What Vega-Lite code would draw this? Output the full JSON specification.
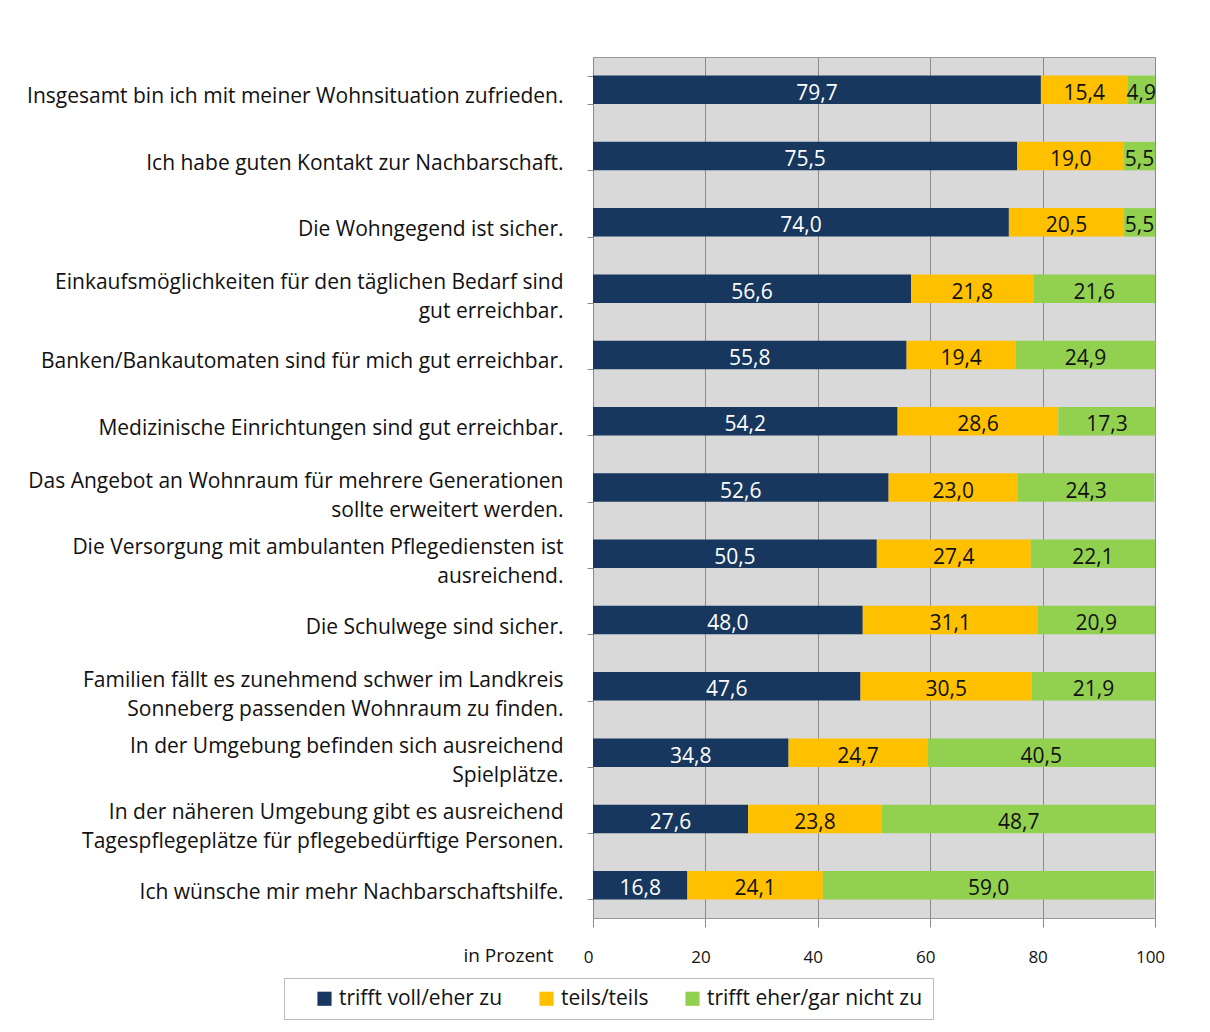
{
  "$schema": "https://vega.github.io/schema/vega-lite/v6.json",
  "autosize": "none",
  "width": 562,
  "height": 861,
  "padding": {"left": 593, "top": 57, "right": 55, "bottom": 114},
  "background": "white",
  "config": {
    "font": "Open Sans",
    "view": {"fill": "#D9D9D9", "stroke": "#9A9A9A"},
    "locale": {"number": {"decimal": ",", "thousands": ".", "grouping": [3], "currency": ["", " €"]}}
  },
  "data": {"values": [
    {"q": "Insgesamt bin ich mit meiner Wohnsituation zufrieden.", "cat": "trifft voll/eher zu", "o": 1, "v": 79.7},
    {"q": "Insgesamt bin ich mit meiner Wohnsituation zufrieden.", "cat": "teils/teils", "o": 2, "v": 15.4},
    {"q": "Insgesamt bin ich mit meiner Wohnsituation zufrieden.", "cat": "trifft eher/gar nicht zu", "o": 3, "v": 4.9},
    {"q": "Ich habe guten Kontakt zur Nachbarschaft.", "cat": "trifft voll/eher zu", "o": 1, "v": 75.5},
    {"q": "Ich habe guten Kontakt zur Nachbarschaft.", "cat": "teils/teils", "o": 2, "v": 19.0},
    {"q": "Ich habe guten Kontakt zur Nachbarschaft.", "cat": "trifft eher/gar nicht zu", "o": 3, "v": 5.5},
    {"q": "Die Wohngegend ist sicher.", "cat": "trifft voll/eher zu", "o": 1, "v": 74.0},
    {"q": "Die Wohngegend ist sicher.", "cat": "teils/teils", "o": 2, "v": 20.5},
    {"q": "Die Wohngegend ist sicher.", "cat": "trifft eher/gar nicht zu", "o": 3, "v": 5.5},
    {"q": "Einkaufsmöglichkeiten für den täglichen Bedarf sind|gut erreichbar.", "cat": "trifft voll/eher zu", "o": 1, "v": 56.6},
    {"q": "Einkaufsmöglichkeiten für den täglichen Bedarf sind|gut erreichbar.", "cat": "teils/teils", "o": 2, "v": 21.8},
    {"q": "Einkaufsmöglichkeiten für den täglichen Bedarf sind|gut erreichbar.", "cat": "trifft eher/gar nicht zu", "o": 3, "v": 21.6},
    {"q": "Banken/Bankautomaten sind für mich gut erreichbar.", "cat": "trifft voll/eher zu", "o": 1, "v": 55.8},
    {"q": "Banken/Bankautomaten sind für mich gut erreichbar.", "cat": "teils/teils", "o": 2, "v": 19.4},
    {"q": "Banken/Bankautomaten sind für mich gut erreichbar.", "cat": "trifft eher/gar nicht zu", "o": 3, "v": 24.9},
    {"q": "Medizinische Einrichtungen sind gut erreichbar.", "cat": "trifft voll/eher zu", "o": 1, "v": 54.2},
    {"q": "Medizinische Einrichtungen sind gut erreichbar.", "cat": "teils/teils", "o": 2, "v": 28.6},
    {"q": "Medizinische Einrichtungen sind gut erreichbar.", "cat": "trifft eher/gar nicht zu", "o": 3, "v": 17.3},
    {"q": "Das Angebot an Wohnraum für mehrere Generationen|sollte erweitert werden.", "cat": "trifft voll/eher zu", "o": 1, "v": 52.6},
    {"q": "Das Angebot an Wohnraum für mehrere Generationen|sollte erweitert werden.", "cat": "teils/teils", "o": 2, "v": 23.0},
    {"q": "Das Angebot an Wohnraum für mehrere Generationen|sollte erweitert werden.", "cat": "trifft eher/gar nicht zu", "o": 3, "v": 24.3},
    {"q": "Die Versorgung mit ambulanten Pflegediensten ist|ausreichend.", "cat": "trifft voll/eher zu", "o": 1, "v": 50.5},
    {"q": "Die Versorgung mit ambulanten Pflegediensten ist|ausreichend.", "cat": "teils/teils", "o": 2, "v": 27.4},
    {"q": "Die Versorgung mit ambulanten Pflegediensten ist|ausreichend.", "cat": "trifft eher/gar nicht zu", "o": 3, "v": 22.1},
    {"q": "Die Schulwege sind sicher.", "cat": "trifft voll/eher zu", "o": 1, "v": 48.0},
    {"q": "Die Schulwege sind sicher.", "cat": "teils/teils", "o": 2, "v": 31.1},
    {"q": "Die Schulwege sind sicher.", "cat": "trifft eher/gar nicht zu", "o": 3, "v": 20.9},
    {"q": "Familien fällt es zunehmend schwer im Landkreis|Sonneberg passenden Wohnraum zu finden.", "cat": "trifft voll/eher zu", "o": 1, "v": 47.6},
    {"q": "Familien fällt es zunehmend schwer im Landkreis|Sonneberg passenden Wohnraum zu finden.", "cat": "teils/teils", "o": 2, "v": 30.5},
    {"q": "Familien fällt es zunehmend schwer im Landkreis|Sonneberg passenden Wohnraum zu finden.", "cat": "trifft eher/gar nicht zu", "o": 3, "v": 21.9},
    {"q": "In der Umgebung befinden sich ausreichend|Spielplätze.", "cat": "trifft voll/eher zu", "o": 1, "v": 34.8},
    {"q": "In der Umgebung befinden sich ausreichend|Spielplätze.", "cat": "teils/teils", "o": 2, "v": 24.7},
    {"q": "In der Umgebung befinden sich ausreichend|Spielplätze.", "cat": "trifft eher/gar nicht zu", "o": 3, "v": 40.5},
    {"q": "In der näheren Umgebung gibt es ausreichend|Tagespflegeplätze für pflegebedürftige Personen.", "cat": "trifft voll/eher zu", "o": 1, "v": 27.6},
    {"q": "In der näheren Umgebung gibt es ausreichend|Tagespflegeplätze für pflegebedürftige Personen.", "cat": "teils/teils", "o": 2, "v": 23.8},
    {"q": "In der näheren Umgebung gibt es ausreichend|Tagespflegeplätze für pflegebedürftige Personen.", "cat": "trifft eher/gar nicht zu", "o": 3, "v": 48.7},
    {"q": "Ich wünsche mir mehr Nachbarschaftshilfe.", "cat": "trifft voll/eher zu", "o": 1, "v": 16.8},
    {"q": "Ich wünsche mir mehr Nachbarschaftshilfe.", "cat": "teils/teils", "o": 2, "v": 24.1},
    {"q": "Ich wünsche mir mehr Nachbarschaftshilfe.", "cat": "trifft eher/gar nicht zu", "o": 3, "v": 59.0}
  ]},
  "transform": [
    {"stack": "v", "groupby": ["q"], "sort": [{"field": "o", "order": "ascending"}], "as": ["x0", "x1"]},
    {"calculate": "(datum.x0 + datum.x1) / 2", "as": "mid"}
  ],
  "encoding": {
    "y": {
      "field": "q", "type": "nominal", "sort": null,
      "scale": {"paddingInner": 0.57, "paddingOuter": 0.28},
      "axis": {
        "title": null, "domain": false, "ticks": true, "tickBand": "extent", "tickColor": "#888888", "tickSize": 6, "tickOffset": 0,
        "labelExpr": "split(datum.label, '|')", "labelFontSize": 21, "labelColor": "#111111",
        "labelOffset": {"condition": {"test": "indexof(datum.label, '|') >= 0", "value": -6}, "value": 7},
        "labelPadding": 24, "labelLineHeight": 29, "labelLimit": 600
      }
    }
  },
  "layer": [
    {
      "mark": {"type": "bar", "stroke": null},
      "encoding": {
        "x": {
          "field": "x0", "type": "quantitative",
          "scale": {"domain": [0, 100], "nice": false},
          "axis": {
            "values": [0, 20, 40, 60, 80, 100], "grid": true, "gridColor": "#8A8A8A", "gridWidth": 1,
            "domain": true, "domainColor": "#9A9A9A", "tickColor": "#8A8A8A", "tickSize": 9,
            "labelFontSize": 17, "labelColor": "#111111", "labelPadding": 22, "labelFlush": false, "labelOffset": -5,
            "title": "in Prozent", "titleFontSize": 19, "titleFontWeight": "normal", "titleColor": "#111111",
            "titleAnchor": "start", "titleAlign": "right", "titleX": -40, "titleY": 43, "titleBaseline": "alphabetic"
          }
        },
        "x2": {"field": "x1"},
        "color": {
          "field": "cat", "type": "nominal",
          "scale": {"domain": ["trifft voll/eher zu", "teils/teils", "trifft eher/gar nicht zu"], "range": ["#17375E", "#FFC000", "#92D050"]},
          "legend": {
            "title": null, "orient": "none", "direction": "horizontal", "legendX": -309, "legendY": 921,
            "symbolType": "square", "symbolSize": 200, "symbolStrokeWidth": 0, "labelFontSize": 21, "labelColor": "#111111",
            "labelLimit": 400, "columnPadding": 13, "labelOffset": 4, "padding": 10, "symbolOffset": 20,
            "strokeColor": "#BBBBBB", "fillColor": "white"
          }
        },
        "order": {"field": "o", "type": "quantitative"}
      }
    },
    {
      "mark": {"type": "text", "fontSize": 21, "baseline": "middle", "dy": 4},
      "encoding": {
        "x": {"field": "mid", "type": "quantitative"},
        "text": {"field": "v", "type": "quantitative", "format": ".1f"},
        "color": {
          "condition": {"test": "datum.o === 1", "value": "white"},
          "value": "#111111"
        }
      }
    }
  ]
}
